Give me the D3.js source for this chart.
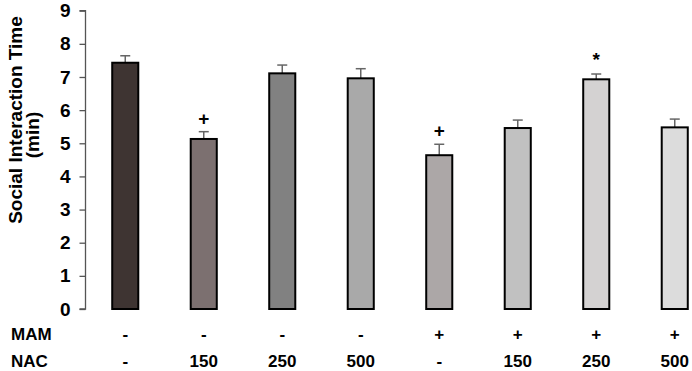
<!DOCTYPE html>
<html><head><meta charset="utf-8">
<script src="https://cdn.jsdelivr.net/npm/d3@7"></script>
<style>body{margin:0;background:#fff}svg{display:block}text{font-family:"Liberation Sans",Arial,sans-serif;font-weight:bold;fill:#000}</style>
</head><body><svg id="c" width="692" height="371"></svg>
<script>
const groups = ["g1","g2","g3","g4","g5","g6","g7","g8"];
const mamLabels = ["-","-","-","-","+","+","+","+"];
const nacLabels = ["-","150","250","500","-","150","250","500"];
const values = [7.43, 5.13, 7.11, 6.96, 4.64, 5.46, 6.93, 5.48];
const errors = [0.21, 0.22, 0.25, 0.29, 0.33, 0.24, 0.16, 0.25];
const marks = ["", "+", "", "", "+", "", "*", ""];
const colors = ["#3e3432","#7c7070","#818181","#a9a9a9","#aca7a7","#c1c1c1","#d4d2d2","#dcdcdc"];
const yTicks = [0,1,2,3,4,5,6,7,8,9];

const svg = d3.select("#c");
const x = d3.scaleBand().domain(groups).range([86, 714]).paddingInner(0.668).paddingOuter(0.334);
const y = d3.scaleLinear().domain([0, 9]).range([309, 10.7]);

const ax = svg.append("g").attr("transform","translate(85.5,0)")
  .call(d3.axisLeft(y).tickValues(yTicks).tickSize(6).tickPadding(9).tickFormat(d3.format("d")));
ax.select(".domain").attr("stroke","#555").attr("stroke-width",1.3).attr("d","M-6,"+y(9)+"H0V"+y(0)+"H-6");
ax.selectAll(".tick line").attr("stroke","#555").attr("stroke-width",1.3);
ax.selectAll(".tick text").style("font-size","19px").style("font-weight","bold").attr("fill","#000")
  .style("font-family","'Liberation Sans',Arial,sans-serif");

const data = groups.map((g,i)=>({g, v:values[i], e:errors[i], m:marks[i], c:colors[i]}));

// error bars
const eb = svg.append("g");
data.forEach(d=>{
  const cx = x(d.g)+x.bandwidth()/2;
  eb.append("line").attr("x1",cx).attr("x2",cx).attr("y1",y(d.v)).attr("y2",y(d.v+d.e)).attr("stroke","#666").attr("stroke-width",1.5);
  eb.append("line").attr("x1",cx-5).attr("x2",cx+5).attr("y1",y(d.v+d.e)).attr("y2",y(d.v+d.e)).attr("stroke","#666").attr("stroke-width",1.5);
  if(d.m) svg.append("text").attr("x",cx).attr("y",y(d.v+d.e)-(d.m==="*"?8:7)).attr("text-anchor","middle").style("font-size","19px").text(d.m);
});

svg.append("g").selectAll("rect").data(data).join("rect")
  .attr("x",d=>x(d.g)).attr("width",x.bandwidth())
  .attr("y",d=>y(d.v)).attr("height",d=>y(0)-y(d.v))
  .attr("fill",d=>d.c).attr("stroke","#000").attr("stroke-width",2);

// bottom rows
svg.append("text").attr("x",11).attr("y",340).style("font-size","17px").text("MAM");
svg.append("text").attr("x",11).attr("y",366.5).style("font-size","17px").text("NAC");
svg.append("g").selectAll("text").data(groups).join("text")
  .attr("x",g=>x(g)+x.bandwidth()/2).attr("y",340).attr("text-anchor","middle").style("font-size","17px")
  .text((g,i)=>mamLabels[i]);
svg.append("g").selectAll("text").data(groups).join("text")
  .attr("x",g=>x(g)+x.bandwidth()/2).attr("y",366.5).attr("text-anchor","middle").style("font-size","17px")
  .text((g,i)=>nacLabels[i]);

// y title
svg.append("text").attr("transform","translate(21.5,120) rotate(-90)").attr("text-anchor","middle").style("font-size","19px").text("Social Interaction Time");
svg.append("text").attr("transform","translate(39,135) rotate(-90)").attr("text-anchor","middle").style("font-size","19px").text("(min)");
</script></body></html>
